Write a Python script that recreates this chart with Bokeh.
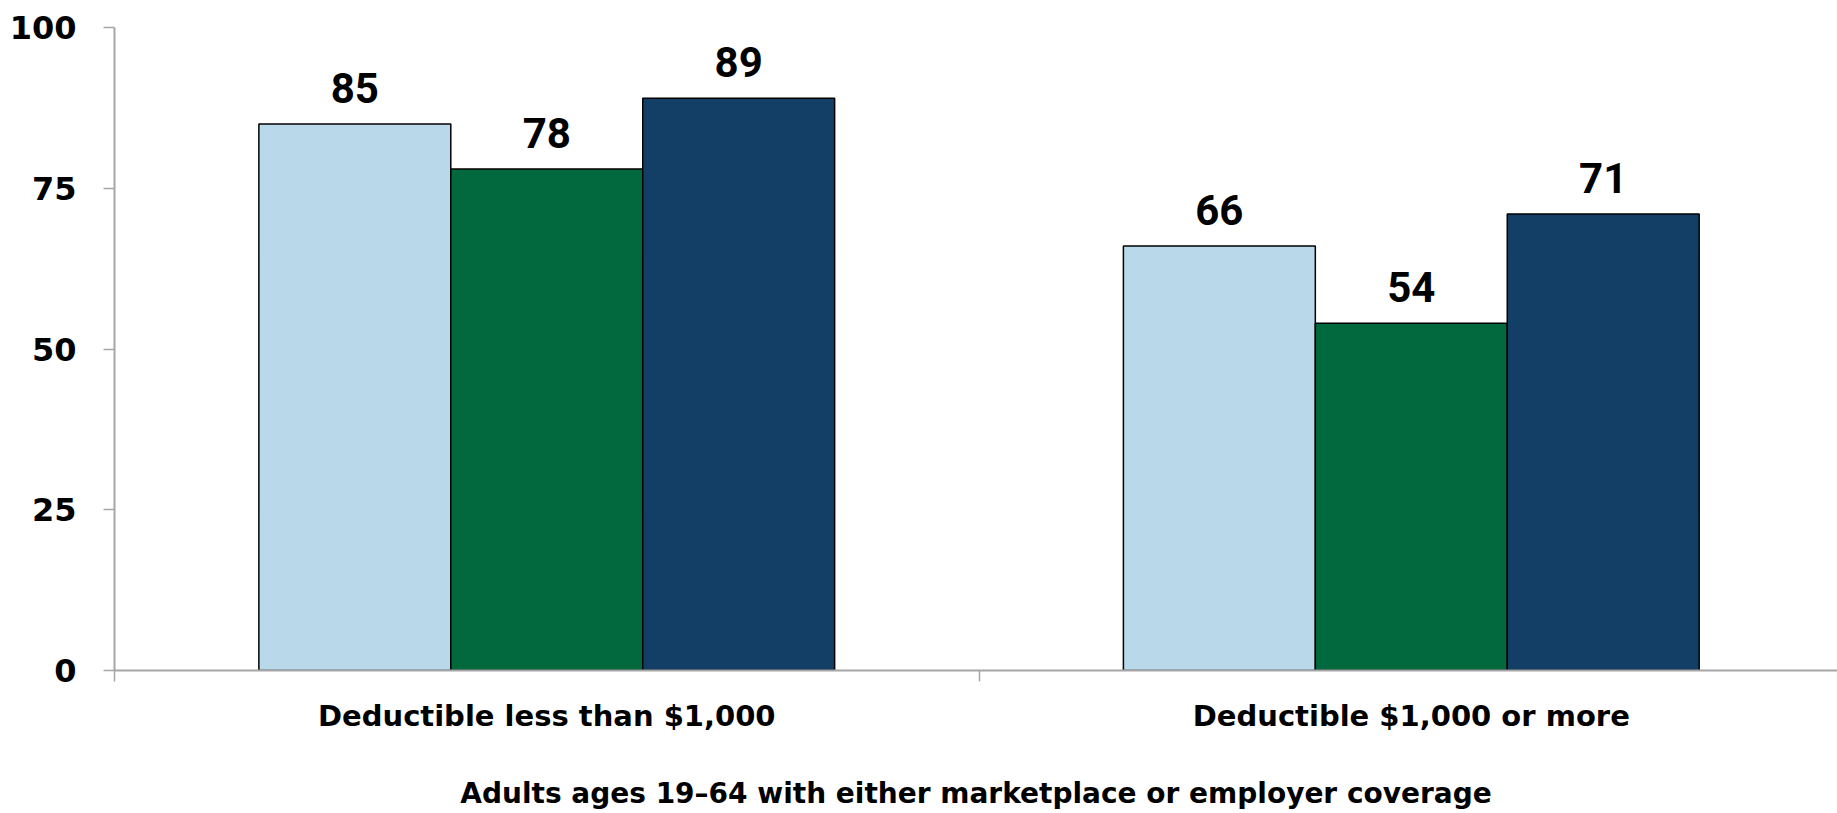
from bokeh.plotting import figure
from bokeh.models import ColumnDataSource, Range1d, FixedTicker
from bokeh.core.properties import value
from bokeh.embed import file_html
from bokeh.resources import INLINE

categories = ["Deductible less than $1,000", "Deductible $1,000 or more"]
series_a = [85, 66]   # light blue
series_b = [78, 54]   # green
series_c = [89, 71]   # navy
y_ticks = [0, 25, 50, 75, 100]
x_axis_label = "Adults ages 19\u201364 with either marketplace or employer coverage"

colors = ["#B9D9EB", "#02693E", "#133F67"]
offsets = [-0.222, 0.0, 0.222]
bar_w = 0.222
AXIS_FONT = "DejaVu Sans"

p = figure(width=1837, height=813, output_backend="svg", toolbar_location=None,
           x_range=Range1d(0, 1.993), y_range=Range1d(0, 100),
           min_border_left=114, min_border_right=0, min_border_top=27, min_border_bottom=143)
p.outline_line_color = None
p.xgrid.grid_line_color = None
p.ygrid.grid_line_color = None
p.background_fill_color = "white"

centers = [i + 0.5 for i in range(len(categories))]
for vals, col, off in zip([series_a, series_b, series_c], colors, offsets):
    src = ColumnDataSource(dict(x=[c + off for c in centers], top=vals,
                                lab=[str(v) for v in vals]))
    p.vbar(x="x", top="top", width=bar_w, bottom=0, source=src,
           fill_color=col, line_color="black", line_width=1.5)
    p.text(x="x", y="top", text="lab", source=src, text_align="center",
           text_baseline="alphabetic", y_offset=-36, text_font=value("Roboto"),
           text_font_style="bold", text_font_size="42px", text_color="black")

# x axis
xa = p.xaxis[0]
xa.ticker = FixedTicker(ticks=centers, minor_ticks=[0, 1, 2])
xa.major_label_overrides = {c: cat for c, cat in zip(centers, categories)}
xa.major_tick_line_color = None
xa.major_tick_out = 0
xa.major_tick_in = 0
xa.minor_tick_out = 11
xa.minor_tick_in = 0
xa.minor_tick_line_color = "#A6A6A6"
xa.minor_tick_line_width = 1.5
xa.axis_line_color = "#A6A6A6"
xa.axis_line_width = 2
xa.major_label_text_font = AXIS_FONT
xa.major_label_text_font_style = "bold"
xa.major_label_text_font_size = "29px"
xa.major_label_text_color = "black"
xa.major_label_standoff = 17
xa.axis_label = x_axis_label
xa.axis_label_text_font = AXIS_FONT
xa.axis_label_text_font_style = "bold"
xa.axis_label_text_font_size = "28px"
xa.axis_label_text_color = "black"
xa.axis_label_standoff = 41

ya = p.yaxis[0]
ya.ticker = FixedTicker(ticks=y_ticks)
ya.major_tick_out = 11
ya.major_tick_in = 0
ya.minor_tick_line_color = None
ya.major_tick_line_color = "#A6A6A6"
ya.major_tick_line_width = 1.5
ya.axis_line_color = "#A6A6A6"
ya.axis_line_width = 2
ya.major_label_text_font = AXIS_FONT
ya.major_label_text_font_style = "bold"
ya.major_label_text_font_size = "32px"
ya.major_label_text_color = "black"
ya.major_label_standoff = 27

open("out.html", "w").write(file_html(p, INLINE))
